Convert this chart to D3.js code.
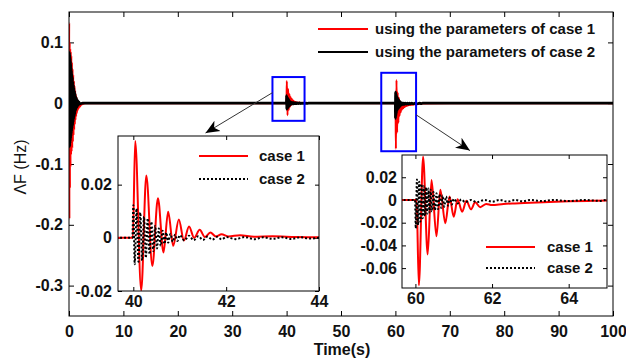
<!DOCTYPE html>
<html><head><meta charset="utf-8">
<script src="https://cdn.jsdelivr.net/npm/d3@7/dist/d3.min.js"></script>
<style>
body{margin:0;background:#fff}
text{font-family:"Liberation Sans",Arial,sans-serif;font-weight:bold;fill:#111}
</style>
</head><body>
<svg id="c" width="626" height="360"></svg>
<script>
// ---------------- data ----------------
const xTicksMain = [0,10,20,30,40,50,60,70,80,90,100];
const yTicksMain = [-0.3,-0.2,-0.1,0,0.1];
const yTickLabelsMain = ["-0.3","-0.2","-0.1","0","0.1"];
const xTicksInset1 = [40,42,44];
const yTicksInset1 = [-0.02,0,0.02];
const yTickLabelsInset1 = ["-0.02","0","0.02"];
const xTicksInset2 = [60,62,64];
const yTicksInset2 = [-0.06,-0.04,-0.02,0,0.02];
const yTickLabelsInset2 = ["-0.06","-0.04","-0.02","0","0.02"];

const legendMain = ["using the parameters of case 1","using the parameters of case 2"];
const legendInset = ["case 1","case 2"];
const xLabel = "Time(s)";
const yLabel = "\u039BF (Hz)";

// case 1 (red), initial transient [time, deltaF]
const case1Start = [[0,0],[0.03,0.132],[0.07,-0.19],[0.12,0.1],[0.17,-0.14],[0.22,0.09],[0.27,-0.105],[0.32,0.085],
 [0.37,-0.085],[0.42,0.078],[0.47,-0.08],[0.53,0.068],[0.59,-0.074],[0.65,0.057],[0.71,-0.064],[0.77,0.047],
 [0.83,-0.053],[0.89,0.037],[0.95,-0.044],[1.01,0.029],[1.07,-0.035],[1.13,0.021],[1.19,-0.028],[1.25,0.015],
 [1.31,-0.022],[1.37,0.011],[1.43,-0.017],[1.49,0.007],[1.55,-0.013],[1.61,0.004],[1.67,-0.01],[1.73,0.002],
 [1.79,-0.008],[1.85,0.001],[1.95,-0.006],[2.1,-0.004],[2.3,-0.002],[2.6,-0.001],[3,0]];
// case 2 (black), initial transient
const case2Start = [[0,0],[0.02,0.05],[0.05,-0.065],[0.08,0.083],[0.11,-0.071],[0.14,0.08],[0.17,-0.066],[0.2,0.074],
 [0.23,-0.062],[0.26,0.069],[0.29,-0.058],[0.32,0.064],[0.35,-0.054],[0.38,0.058],[0.41,-0.05],[0.44,0.053],
 [0.47,-0.046],[0.5,0.048],[0.55,-0.041],[0.6,0.042],[0.65,-0.036],[0.7,0.036],[0.75,-0.031],[0.8,0.03],
 [0.85,-0.026],[0.9,0.025],[0.95,-0.022],[1.0,0.02],[1.05,-0.018],[1.1,0.016],[1.15,-0.014],[1.2,0.012],
 [1.3,-0.01],[1.4,0.008],[1.5,-0.006],[1.6,0.004],[1.7,-0.003],[1.8,0.002],[2.0,-0.001],[2.5,0]];
// disturbance at t = 40 s
const case1Event40 = [[3,0],[39.99,0],[40.04,0.0364],[40.17,-0.0198],[40.28,0.0234],[40.41,-0.0106],[40.53,0.0149],
 [40.65,-0.0055],[40.75,0.0098],[40.86,-0.003],[40.98,0.0069],[41.09,-0.001],[41.2,0.0043],[41.31,0.0],
 [41.43,0.003],[41.54,0.0003],[41.66,0.002],[41.78,0.0005],[41.9,0.0013],[42.05,0.0005],[42.3,0.001],
 [42.6,0.0004],[43,0.0006],[43.5,0.0003],[44,0.0002]];
const case2Event40 = [[2.5,0],[39.98,0],[40.0,0.0123],[40.03,-0.0099],[40.07,0.011],[40.11,-0.009],[40.15,0.0095],
 [40.19,-0.0085],[40.23,0.008],[40.27,-0.0075],[40.31,0.0073],[40.35,-0.0062],[40.39,0.006],[40.43,-0.005],
 [40.47,0.0045],[40.51,-0.004],[40.55,0.0035],[40.59,-0.003],[40.63,0.0027],[40.67,-0.0023],[40.71,0.002],
 [40.75,-0.0018],[40.8,0.0015],[40.85,-0.0015],[40.9,0.0012],[40.95,-0.0012],[41.0,0.001],[41.1,-0.001],
 [41.2,0.0008],[41.3,-0.0009],[41.4,0.0006],[41.5,-0.0008],[41.6,0.0005],[41.7,-0.0007],[41.8,0.0004],
 [41.9,-0.0006],[42.0,0.0003],[42.2,-0.0005],[42.4,0.0003],[42.6,-0.0005],[42.8,0.0002],[43.0,-0.0004],
 [43.2,0.0002],[43.4,-0.0004],[43.6,0.0002],[43.8,-0.0003],[44,0]];
// disturbance at t = 60 s
const case1Event60 = [[59.6,0],[60.03,0],[60.09,-0.075],[60.2,0.038],[60.32,-0.048],[60.42,0.0176],[60.55,-0.032],
 [60.65,0.009],[60.78,-0.0205],[60.89,0.003],[61.0,-0.0147],[61.1,0.0006],[61.22,-0.0103],[61.33,-0.0006],
 [61.45,-0.0082],[61.56,-0.002],[61.69,-0.0063],[61.85,-0.0035],[62.0,-0.0045],[62.3,-0.0035],[62.6,-0.003],
 [63,-0.0025],[63.5,-0.0018],[64,-0.0012],[64.5,-0.0008],[65,-0.0005],[70,0],[100,0]];
const case2Event60 = [[59.6,0],[59.99,0],[60.01,-0.025],[60.04,0.018],[60.07,-0.022],[60.1,0.016],[60.13,-0.019],
 [60.16,0.014],[60.19,-0.016],[60.22,0.012],[60.25,-0.014],[60.28,0.011],[60.31,-0.012],[60.34,0.01],
 [60.37,-0.011],[60.4,0.009],[60.43,-0.01],[60.47,0.007],[60.51,-0.009],[60.55,0.006],[60.59,-0.008],
 [60.63,0.005],[60.67,-0.007],[60.71,0.004],[60.75,-0.006],[60.8,0.003],[60.85,-0.005],[60.9,0.002],
 [60.95,-0.004],[61.0,0.001],[61.1,-0.003],[61.2,0.0005],[61.3,-0.002],[61.45,0.0],[61.6,-0.002],[61.8,0.0],
 [62.0,-0.0015],[62.2,0.0],[62.4,-0.0015],[62.6,0.0],[62.8,-0.0012],[63,0],[63.3,-0.001],[63.6,0],[64,-0.001],
 [64.4,0],[64.8,-0.0008],[65,0],[100,0]];
// zoom boxes in data coordinates [t0, t1, v0, v1]
const zoomBox1 = [37.4, 43.3, -0.029, 0.043];
const zoomBox2 = [57.4, 63.8, -0.079, 0.05];
// arrow start / end points in data coordinates
const arrow1 = [[37.4, 0.0173],[25.1, -0.049]];
const arrow2 = [[63.8, -0.019],[73.7, -0.078]];

// ---------------- drawing ----------------
const svg = d3.select("#c");
const defs = svg.append("defs");
defs.append("marker").attr("id","ah").attr("viewBox","-14 -7 16 14")
  .attr("markerWidth",16).attr("markerHeight",14).attr("refX",0).attr("refY",0)
  .attr("orient","auto").attr("markerUnits","userSpaceOnUse")
  .append("path").attr("d","M0,0 L-14,-6 L-10,0 L-14,6 Z").attr("fill","#000");

const case1 = case1Start.concat(case1Event40, case1Event60);
const case2 = case2Start.concat(case2Event40, case2Event60);

function panel(id, x, y, xt, yt, ytl, opt){
  const g = svg.append("g");
  const [x0,x1] = x.range(), [yb,yt0] = y.range();
  g.append("rect").attr("x",x0).attr("y",yt0).attr("width",x1-x0).attr("height",yb-yt0).attr("fill","#fff");
  defs.append("clipPath").attr("id",id).append("rect").attr("x",x0).attr("y",yt0).attr("width",x1-x0).attr("height",yb-yt0);
  const ax = (a, tr) => { const s = g.append("g").attr("transform",tr).call(a); s.select(".domain").remove();
    s.selectAll("text").style("font-size",opt.fs+"px"); s.selectAll("line").attr("stroke","#000"); return s; };
  ax(d3.axisBottom(x).tickValues(xt).tickFormat(d3.format("d")).tickSize(-opt.tk).tickPadding(opt.padX), `translate(0,${yb})`);
  ax(d3.axisTop(x).tickValues(xt).tickFormat("").tickSize(-opt.tk), `translate(0,${yt0})`);
  ax(d3.axisLeft(y).tickValues(yt).tickFormat((d,i)=>ytl[i]).tickSize(-opt.tk).tickPadding(opt.padY), `translate(${x0},0)`);
  ax(d3.axisRight(y).tickValues(yt).tickFormat("").tickSize(-opt.tk), `translate(${x1},0)`);
  const data = g.append("g").attr("clip-path",`url(#${id})`);
  const line = d3.line().x(d=>x(d[0])).y(d=>y(d[1])).curve(d3.curveMonotoneX);
  data.append("path").attr("d",line(case1)).attr("fill","none").attr("stroke","#ff0000").attr("stroke-width",opt.w1);
  const p2 = data.append("path").attr("d",line(case2)).attr("fill","none").attr("stroke","#000").attr("stroke-width",opt.w2);
  if (opt.dash) p2.attr("stroke-dasharray",opt.dash);
  g.append("rect").attr("x",x0).attr("y",yt0).attr("width",x1-x0).attr("height",yb-yt0)
    .attr("fill","none").attr("stroke","#000").attr("stroke-width",1);
  return g;
}

// main axes
const mx = d3.scaleLinear().domain([0,100]).range([69,613]);
const my = d3.scaleLinear().domain([-0.35,0.15]).range([316,12]);
const mg = panel("cm", mx, my, xTicksMain, yTicksMain, yTickLabelsMain, {fs:16,tk:5,padX:10,padY:6,w1:2,w2:2.8});

// main legend
legendMain.forEach((t,i)=>{
  const yy = 29 + i*23;
  mg.append("line").attr("x1",318).attr("x2",368).attr("y1",yy).attr("y2",yy)
    .attr("stroke", i==0?"#ff0000":"#000").attr("stroke-width",2);
  mg.append("text").attr("x",375).attr("y",yy).attr("dy","0.36em").style("font-size","15px").text(t);
});

// zoom boxes
[zoomBox1, zoomBox2].forEach(b=>{
  svg.append("rect").attr("x",mx(b[0])).attr("y",my(b[3])).attr("width",mx(b[1])-mx(b[0]))
    .attr("height",my(b[2])-my(b[3])).attr("fill","none").attr("stroke","#0000ff").attr("stroke-width",2);
});
[arrow1, arrow2].forEach(a=>{
  svg.append("line").attr("x1",mx(a[0][0])).attr("y1",my(a[0][1])).attr("x2",mx(a[1][0])).attr("y2",my(a[1][1]))
    .attr("stroke","#333").attr("stroke-width",1).attr("marker-end","url(#ah)");
});

// inset 1
const ix1 = d3.scaleLinear().domain([39.67,44]).range([118,319]);
const iy1 = d3.scaleLinear().domain([-0.02,0.0383]).range([291,136]);
const ig1 = panel("ci1", ix1, iy1, xTicksInset1, yTicksInset1, yTickLabelsInset1, {fs:16,tk:4,padX:5,padY:6,w1:2,w2:2,dash:"2,2"});
legendInset.forEach((t,i)=>{
  const yy = 156 + i*23;
  const l = ig1.append("line").attr("x1",199).attr("x2",248).attr("y1",yy).attr("y2",yy)
    .attr("stroke", i==0?"#ff0000":"#000").attr("stroke-width",2);
  if(i==1) l.attr("stroke-dasharray","2,2");
  ig1.append("text").attr("x",259).attr("y",yy).attr("dy","0.36em").style("font-size","15px").text(t);
});

// inset 2
const ix2 = d3.scaleLinear().domain([59.65,65]).range([402,607]);
const iy2 = d3.scaleLinear().domain([-0.0775,0.0396]).range([288,155]);
const ig2 = panel("ci2", ix2, iy2, xTicksInset2, yTicksInset2, yTickLabelsInset2, {fs:16,tk:4,padX:5,padY:5,w1:2,w2:2,dash:"2,2"});
legendInset.forEach((t,i)=>{
  const yy = 247 + i*21;
  const l = ig2.append("line").attr("x1",486).attr("x2",535).attr("y1",yy).attr("y2",yy)
    .attr("stroke", i==0?"#ff0000":"#000").attr("stroke-width",2);
  if(i==1) l.attr("stroke-dasharray","2,2");
  ig2.append("text").attr("x",547).attr("y",yy).attr("dy","0.36em").style("font-size","15px").text(t);
});

// axis labels
svg.append("text").attr("x",342).attr("y",355).attr("text-anchor","middle").style("font-size","16px").text(xLabel);
svg.append("text").attr("transform","translate(20,167) rotate(-90)").attr("text-anchor","middle").attr("dy","0.36em")
  .style("font-size","16px").style("font-weight","normal").text(yLabel);
</script>
</body></html>
